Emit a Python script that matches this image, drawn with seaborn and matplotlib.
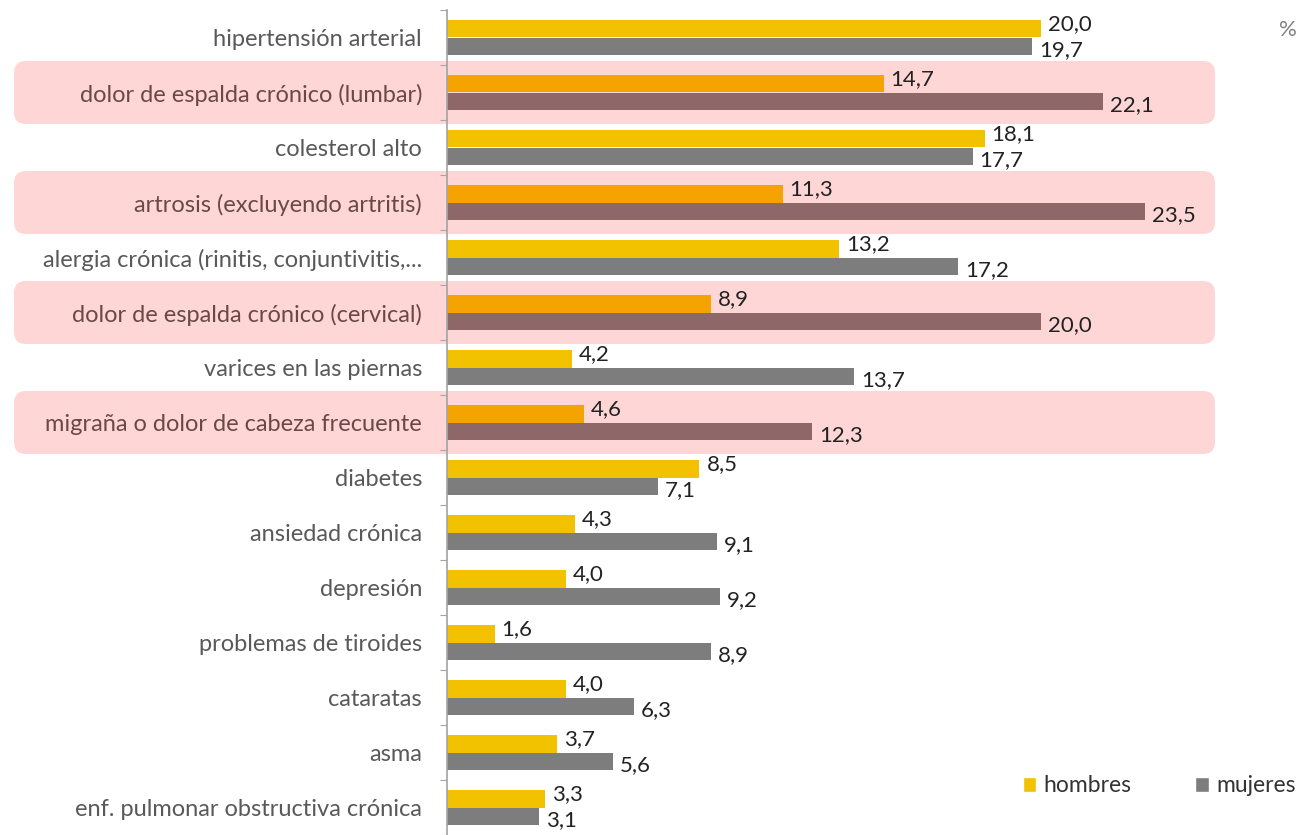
import matplotlib
matplotlib.use("Agg")
import matplotlib.pyplot as plt
import pandas as pd
import seaborn as sns
from matplotlib.patches import FancyBboxPatch, Patch
from matplotlib.transforms import IdentityTransform

categorias = [
    "hipertensión arterial",
    "dolor de espalda crónico (lumbar)",
    "colesterol alto",
    "artrosis (excluyendo artritis)",
    "alergia crónica (rinitis, conjuntivitis,...",
    "dolor de espalda crónico (cervical)",
    "varices en las piernas",
    "migraña o dolor de cabeza frecuente",
    "diabetes",
    "ansiedad crónica",
    "depresión",
    "problemas de tiroides",
    "cataratas",
    "asma",
    "enf. pulmonar obstructiva crónica",
]
hombres = [20.0, 14.7, 18.1, 11.3, 13.2, 8.9, 4.2, 4.6, 8.5, 4.3, 4.0, 1.6, 4.0, 3.7, 3.3]
mujeres = [19.7, 22.1, 17.7, 23.5, 17.2, 20.0, 13.7, 12.3, 7.1, 9.1, 9.2, 8.9, 6.3, 5.6, 3.1]
destacadas = [1, 3, 5, 7]

AMARILLO = "#F2C200"
GRIS = "#7D7D7D"
NARANJA = "#F4A300"
MARRON = "#8E6868"
ROSA = "#FFD6D6"

df = pd.DataFrame({
    "categoria": categorias * 2,
    "sexo": ["hombres"] * len(categorias) + ["mujeres"] * len(categorias),
    "valor": hombres + mujeres,
})

sns.set_theme(style="white")
plt.rcParams["font.family"] = ["Lato", "DejaVu Sans"]

fig = plt.figure(figsize=(13.11, 8.35), dpi=100)
ax = fig.add_axes([447 / 1311, 0, 864 / 1311, 825 / 835])
ax.set_facecolor("none")

sns.barplot(
    data=df, y="categoria", x="valor", hue="sexo", orient="h",
    palette=[AMARILLO, GRIS], width=0.64, saturation=1, legend=False,
    linewidth=0, ax=ax,
)

ax.set_xlim(0, 864 / 29.7)
ax.set_ylim(14.24, -0.49)

# highlighted rows get stronger colours
for i in destacadas:
    ax.containers[0][i].set_facecolor(NARANJA)
    ax.containers[1][i].set_facecolor(MARRON)

# value labels
for cont, dy in zip(ax.containers, [3.5, -3.0]):
    for bar in cont:
        v = bar.get_width()
        y = bar.get_y() + bar.get_height() / 2
        ax.annotate(f"{v:.1f}".replace(".", ","), xy=(v, y), xytext=(5, dy),
                    textcoords="offset points", va="center", ha="left",
                    fontsize=16, color="#222222")

# axes styling
for s in ["top", "right", "bottom"]:
    ax.spines[s].set_visible(False)
ax.spines["left"].set_color("#A6A6A6")
ax.set_xticks([])
ax.set_xlabel("")
ax.set_ylabel("")
ax.set_yticks([i + 0.5 for i in range(-1, 15)], minor=True)
ax.tick_params(axis="y", which="major", length=0, pad=18, labelsize=17, labelcolor="#595959")
ax.tick_params(axis="y", which="minor", length=5, width=0.8, color="#A6A6A6", left=True)
for i, lab in enumerate(ax.get_yticklabels()):
    if i in destacadas:
        lab.set_color("#6B4848")

# pink boxes behind highlighted rows
for i in destacadas:
    yc = ax.transData.transform((0, i))[1]
    box = FancyBboxPatch((14, yc - 31.5), 1201, 63,
                         boxstyle="round,pad=0,rounding_size=12",
                         transform=IdentityTransform(), facecolor=ROSA,
                         edgecolor="none", zorder=-1)
    fig.add_artist(box)

fig.text(1288 / 1311, 1 - 30 / 835, "%", fontsize=16, color="#808080", ha="center", va="center")

handles = [Patch(facecolor=AMARILLO), Patch(facecolor=GRIS)]
fig.legend(handles, ["hombres", "mujeres"], ncol=2, loc="center left",
           bbox_to_anchor=(1002 / 1311, 1 - 786 / 835), frameon=False,
           handlelength=0.6, handleheight=0.6, handletextpad=0.3,
           columnspacing=2.8, fontsize=16.5, labelcolor="#333333")

fig.savefig("out.png", dpi=100)
